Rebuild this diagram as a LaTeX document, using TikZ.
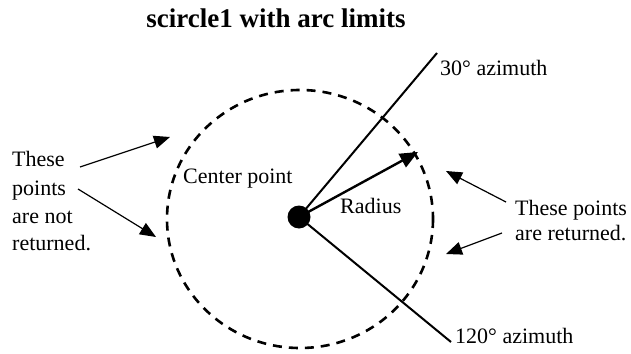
\documentclass[tikz,border=0pt]{standalone}
\usepackage{fontspec}
\setmainfont{Liberation Serif}
\usetikzlibrary{arrows.meta}
\begin{document}
\begin{tikzpicture}[x=1pt,y=-1pt,
  lbl/.style={inner sep=0pt,anchor=base west,font=\fontsize{22}{28}\selectfont},
  thinarrow/.style={line width=1.2pt,-{Triangle[length=16pt,width=13pt]}},
  azline/.style={line width=2pt},
  rimdash/.style={line width=2.6pt,dash pattern=on 9pt off 7pt}]
\useasboundingbox (0,0) rectangle (631,353);
\node[inner sep=0pt,anchor=base,font=\fontsize{27}{30}\selectfont\bfseries] (title) at (276,28) {scircle1 with arc limits};
% circle
\draw[rimdash] (300,219) ellipse [x radius=133, y radius=129];
\node[circle,fill=black,inner sep=0pt,minimum size=23pt] (ctr) at (299,217) {};
\coordinate (az30) at (437,53);
\coordinate (az120) at (451,342);
\coordinate (rtip) at (418,152);
\draw[azline] (ctr.center) -- (az30);
\draw[azline] (ctr.center) -- (az120);
\draw[line width=2.4pt,-{Triangle[length=18pt,width=15pt]}] (ctr.center) -- (rtip);
% labels
\node[lbl] (l30) at (440,75) {30° azimuth};
\node[lbl] (l120) at (455,343) {120° azimuth};
\node[lbl] (lcenter) at (183,183) {Center point};
\node[lbl] (lradius) at (340,213) {Radius};
\node[lbl] (ln1) at (12,166) {These};
\node[lbl] (ln2) at (12,195) {points};
\node[lbl] (ln3) at (12,223) {are not};
\node[lbl] (ln4) at (12,250) {returned.};
\node[lbl] (lr1) at (515,215) {These points};
\node[lbl] (lr2) at (515,240) {are returned.};
% arrows
\coordinate (a1s) at (80,167); \coordinate (a1t) at (170,137);
\coordinate (a2s) at (78,189); \coordinate (a2t) at (156,237);
\coordinate (a3s) at (506,202); \coordinate (a3t) at (446,171);
\coordinate (a4s) at (502,233); \coordinate (a4t) at (446,254);
\draw[thinarrow] (a1s) -- (a1t);
\draw[thinarrow] (a2s) -- (a2t);
\draw[thinarrow] (a3s) -- (a3t);
\draw[thinarrow] (a4s) -- (a4t);
\end{tikzpicture}
\end{document}
